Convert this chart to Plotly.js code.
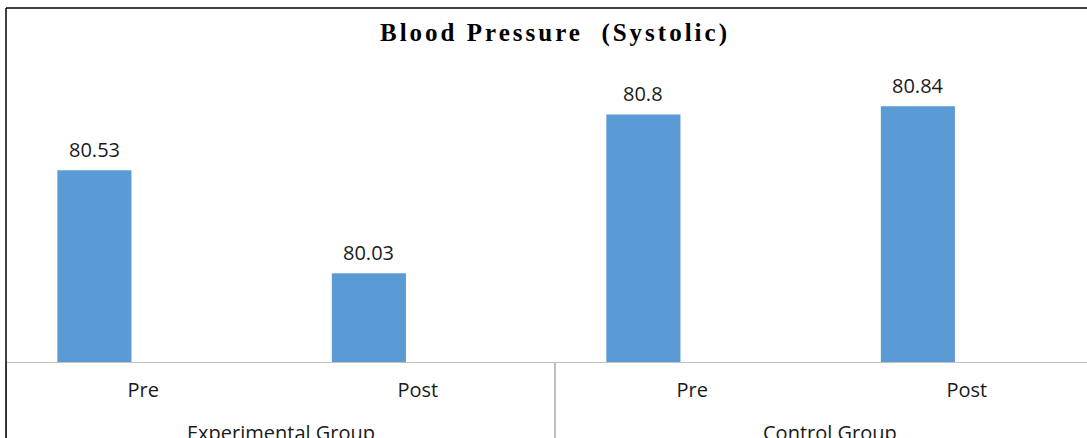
<!DOCTYPE html>
<html>
<head>
<meta charset="utf-8">
<script src="https://cdn.plot.ly/plotly-3.0.1.min.js"></script>
<style>
html, body { margin: 0; padding: 0; overflow: hidden; background: #fff; }
#chart { width: 1110px; height: 460px; }
#chart .gtitle { letter-spacing: 3px; }
</style>
</head>
<body>
<div id="chart"></div>
<script>
const groups = ["Experimental Group", "Experimental Group", "Control Group", "Control Group"];
const phases = ["Pre", "Post", "Pre", "Post"];
const values = [80.53, 80.03, 80.8, 80.84];
const valueLabels = ["80.53", "80.03", "80.8", "80.84"];
const chartTitle = "Blood Pressure&nbsp; (Systolic)";

const keys = groups.map((g, i) => g + " / " + phases[i]);
const groupNames = [...new Set(groups)];

const barOffset = -0.313;
const barWidth = 0.27;
const labelFont = { family: "Open Sans, sans-serif", size: 20, color: "#1a1a1a" };

const trace = {
  type: "bar",
  x: keys,
  y: values,
  offset: barOffset,
  width: barWidth,
  marker: { color: "#5B9BD5" },
  hoverinfo: "none"
};

const valueAnnotations = values.map((v, i) => ({
  x: i + barOffset + barWidth / 2, y: v, xref: "x", yref: "y",
  text: valueLabels[i],
  showarrow: false,
  yanchor: "middle",
  yshift: 21,
  font: labelFont
}));

const groupAnnotations = groupNames.map(name => {
  const idx = groups.map((g, i) => g === name ? i : -1).filter(i => i >= 0);
  const mid = idx.reduce((a, b) => a + b, 0) / idx.length;
  return {
    x: mid, xref: "x", y: -0.198, yref: "paper",
    text: name, showarrow: false, yanchor: "middle",
    font: labelFont
  };
});

// group boundaries (between and around groups)
const boundaries = [-0.5];
groups.forEach((g, i) => { if (i < groups.length - 1 && groups[i + 1] !== g) boundaries.push(i + 0.5); });
boundaries.push(groups.length - 0.5);

const dividerShapes = boundaries.map(b => ({
  type: "line", xref: "x", yref: "paper", x0: b, x1: b, y0: 0, y1: -0.4,
  line: { color: "#BFBFBF", width: 2 }
}));

const layout = {
  width: 1110,
  height: 460,
  margin: { l: 6, r: 6, t: 8, b: 98 },
  paper_bgcolor: "#ffffff",
  plot_bgcolor: "#ffffff",
  showlegend: false,
  title: {
    text: chartTitle,
    font: { family: "Liberation Serif, Times New Roman, serif", size: 25, color: "#000", weight: "bold" },
    x: 0.5, xanchor: "center",
    y: 1 - 32 / 460, yanchor: "middle"
  },
  xaxis: {
    type: "category",
    tickvals: keys,
    ticktext: phases,
    range: [-0.5, keys.length - 0.5],
    showline: true,
    linecolor: "#BFBFBF",
    linewidth: 1,
    ticks: "",
    ticklabelstandoff: 10,
    showgrid: false,
    zeroline: false,
    tickfont: labelFont
  },
  yaxis: {
    range: [79.6, 79.6 + 354 / 206.2],
    showticklabels: false,
    showgrid: false,
    zeroline: false,
    showline: false,
    ticks: ""
  },
  annotations: valueAnnotations.concat(groupAnnotations),
  shapes: dividerShapes.concat([
    { type: "line", xref: "paper", yref: "paper", x0: 0, x1: 1, y0: 1, y1: 1, line: { color: "#000", width: 1.5 } },
    { type: "line", xref: "paper", yref: "paper", x0: 0, x1: 0, y0: 1, y1: -0.4, line: { color: "#000", width: 1.5 } }
  ])
};

Plotly.newPlot("chart", [trace], layout, { staticPlot: true, displayModeBar: false });
</script>
</body>
</html>
